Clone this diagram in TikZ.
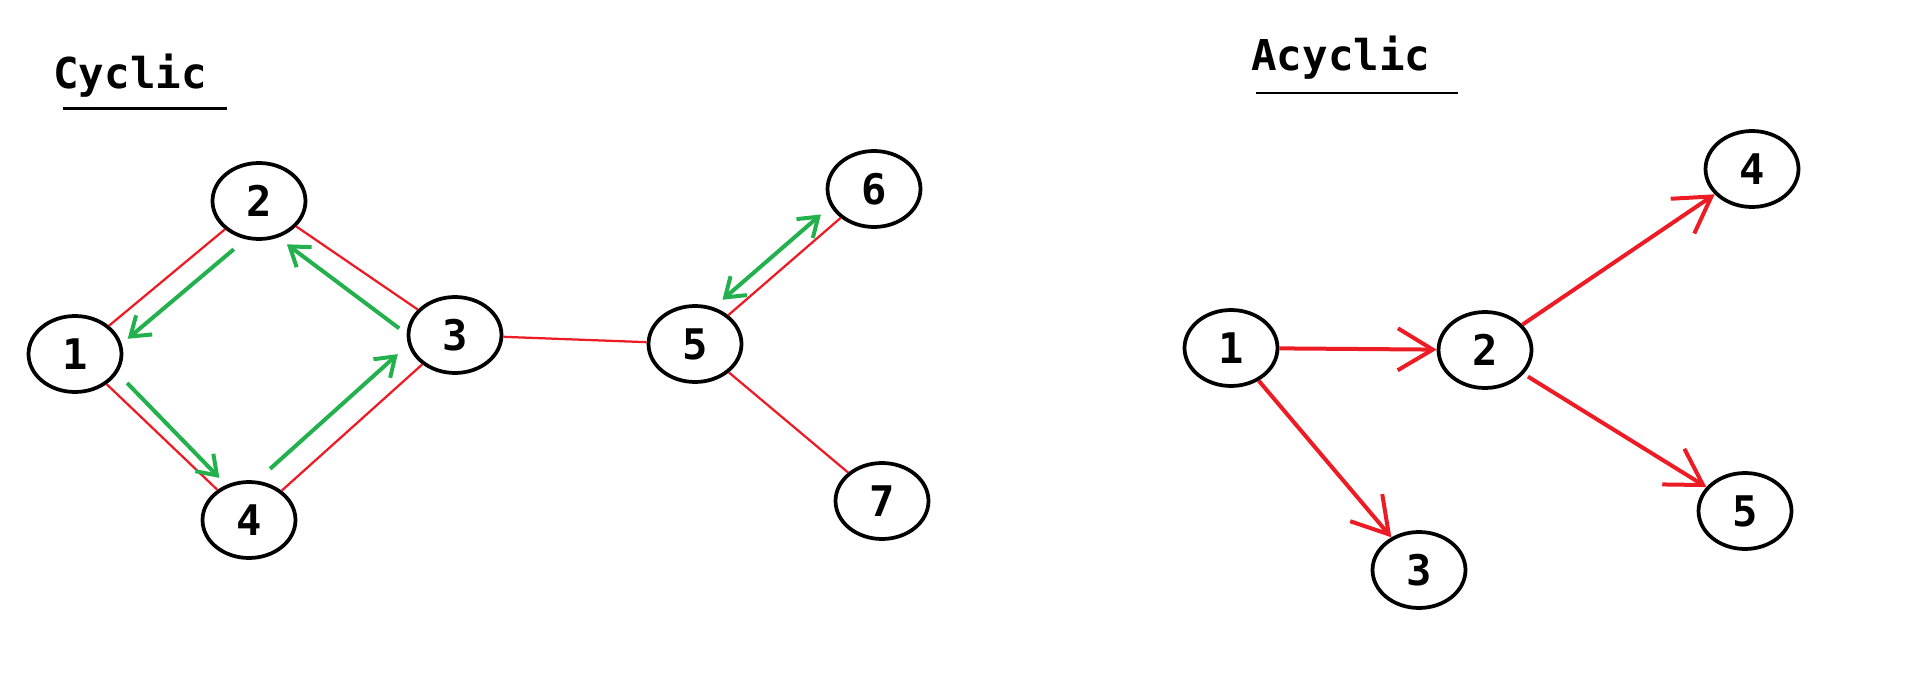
\documentclass[tikz,border=0pt]{standalone}
\usepackage{fontspec}
\setmonofont{DejaVu Sans Mono}
\usetikzlibrary{arrows.meta, calc, shapes.geometric}
\definecolor{paintred}{RGB}{237,28,36}
\definecolor{paintgreen}{RGB}{34,177,76}

\begin{document}
\begin{tikzpicture}[
    x=0.02cm, y=-0.02cm,
    vertexnode/.style={ellipse, draw=black, line width=0.075cm, minimum width=1.86cm, minimum height=1.52cm, inner sep=0pt, font=\ttfamily\bfseries\fontsize{24}{28}\selectfont},
    titlenode/.style={anchor=base west, inner sep=0pt, font=\ttfamily\bfseries\fontsize{24.2}{29}\selectfont},
    titlerule/.style={line width=0.055cm},
    redline/.style={draw=paintred, line width=0.045cm},
    greenarrow/.style={draw=paintgreen, line width=0.08cm, >={Straight Barb[length=0.36cm, width=0.5cm]}, ->},
    redarrow/.style={draw=paintred, line width=0.08cm, >={Straight Barb[length=0.7cm, width=0.84cm]}, ->},
]
\useasboundingbox (0,0) rectangle (1912,692);

% cyclic graph
\node[titlenode](cyctitle) at (53,89){Cyclic};
\draw[titlerule] (63,108.7) -- (227,108.7);
\node[vertexnode](c1) at (75,354){1};
\node[vertexnode](c2) at (259,201){2};
\node[vertexnode](c3) at (455,335){3};
\node[vertexnode](c4) at (249,520){4};
\node[vertexnode](c5) at (695,344){5};
\node[vertexnode](c6) at (874,189){6};
\node[vertexnode](c7) at (882,501){7};
\draw[redline] (c1) -- (c2);
\draw[redline] (c2) -- (c3);
\draw[redline] (c3) -- (c4);
\draw[redline] (c4) -- (c1);
\draw[redline] (c3) -- (c5);
\draw[redline] (c5) -- (c6);
\draw[redline] (c5) -- (c7);
\draw[greenarrow] ($(c2)!0.21!(c1)!0.42cm!90:(c1)$) -- ($(c1)!0.21!(c2)!0.44cm!-90:(c2)$);
\draw[greenarrow] ($(c3)!0.21!(c2)!0.52cm!90:(c2)$) -- ($(c2)!0.20!(c3)!0.40cm!-90:(c3)$);
\draw[greenarrow] ($(c1)!0.24!(c4)!0.30cm!90:(c4)$) -- ($(c4)!0.21!(c1)!0.20cm!-90:(c1)$);
\draw[greenarrow] ($(c4)!0.18!(c3)!0.48cm!90:(c3)$) -- ($(c3)!0.20!(c4)!0.48cm!-90:(c4)$);
\draw[greenarrow, <->] ($(c5)!0.21!(c6)!0.31cm!90:(c6)$) -- ($(c6)!0.24!(c5)!0.31cm!-90:(c5)$);

% acyclic graph
\node[titlenode](acyctitle) at (1251,71){Acyclic};
\draw[titlerule] (1256,93) -- (1458,93);
\node[vertexnode](a1) at (1231,348){1};
\node[vertexnode](a2) at (1485,350){2};
\node[vertexnode](a3) at (1419,570){3};
\node[vertexnode](a4) at (1752,169){4};
\node[vertexnode](a5) at (1745,511){5};
\draw[redarrow] (a1) -- (a2);
\draw[redarrow] (a1) -- (a3);
\draw[redarrow] (a2) -- (a4);
\draw[redarrow, shorten <=0.1cm] (a2) -- (a5);
\end{tikzpicture}
\end{document}
